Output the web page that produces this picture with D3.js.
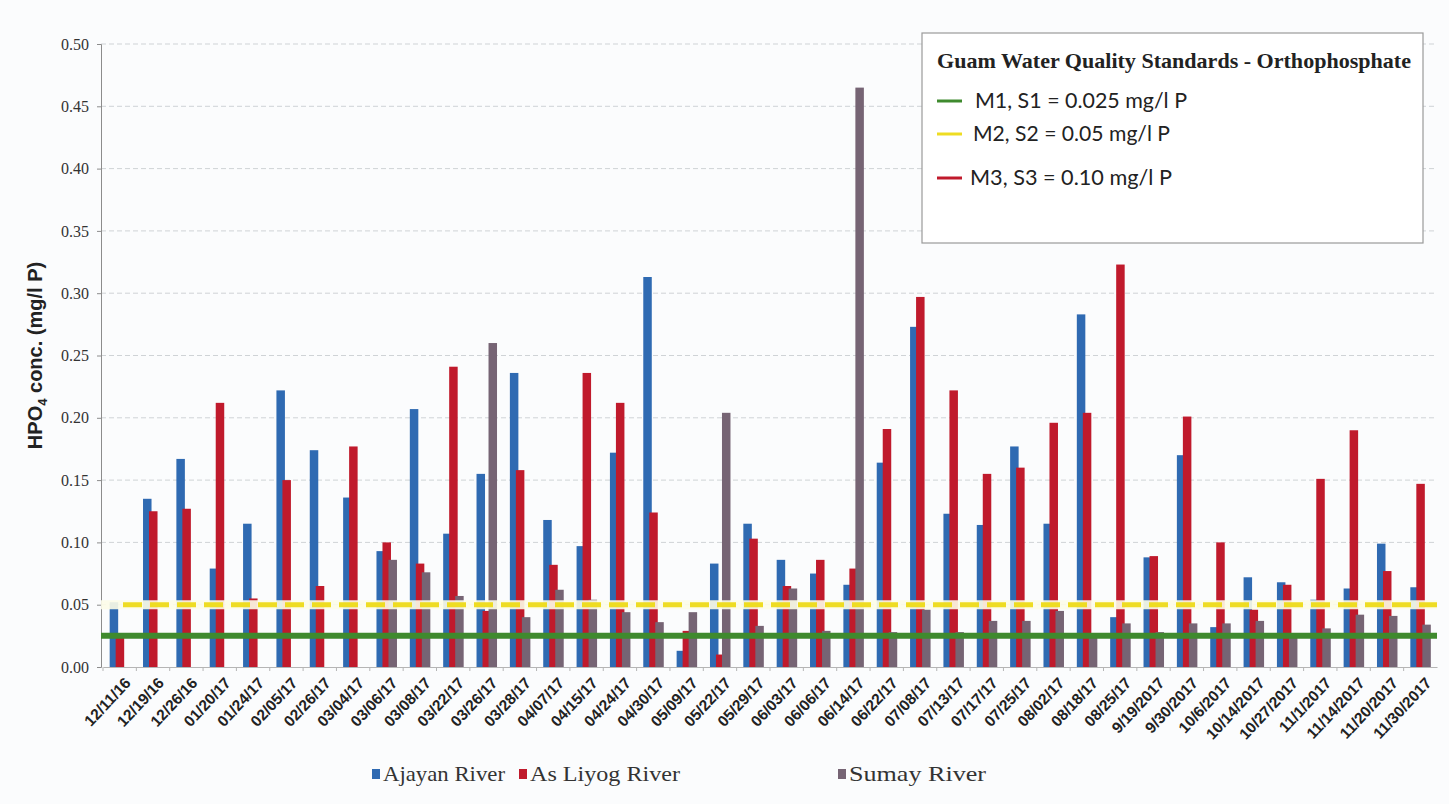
<!DOCTYPE html>
<html><head><meta charset="utf-8">
<script src="https://cdn.jsdelivr.net/npm/d3@7"></script>
<style>
html,body{margin:0;padding:0;background:#fbfcfd;}
svg{display:block;}
</style></head>
<body>
<svg id="chart" width="1449" height="804"></svg>
<script>
// ---------- data ----------
const dates = ["12/11/16","12/19/16","12/26/16","01/20/17","01/24/17","02/05/17","02/26/17","03/04/17","03/06/17","03/08/17",
"03/22/17","03/26/17","03/28/17","04/07/17","04/15/17","04/24/17","04/30/17","05/09/17","05/22/17","05/29/17",
"06/03/17","06/06/17","06/14/17","06/22/17","07/08/17","07/13/17","07/17/17","07/25/17","08/02/17","08/18/17",
"08/25/17","9/19/2017","9/30/2017","10/6/2017","10/14/2017","10/27/2017","11/1/2017","11/14/2017","11/20/2017","11/30/2017"];

const ajayan = [0.052,0.135,0.167,0.079,0.115,0.222,0.174,0.136,0.093,0.207,
0.107,0.155,0.236,0.118,0.097,0.172,0.313,0.013,0.083,0.115,
0.086,0.075,0.066,0.164,0.273,0.123,0.114,0.177,0.115,0.283,
0.040,0.088,0.170,0.032,0.072,0.068,0.054,0.063,0.099,0.064];

const asLiyog = [0.027,0.125,0.127,0.212,0.055,0.150,0.065,0.177,0.100,0.083,
0.241,0.045,0.158,0.082,0.236,0.212,0.124,0.029,0.010,0.103,
0.065,0.086,0.079,0.191,0.297,0.222,0.155,0.160,0.196,0.204,
0.323,0.089,0.201,0.100,0.046,0.066,0.151,0.190,0.077,0.147];

const sumay = [null,null,null,null,null,null,null,null,0.086,0.076,
0.057,0.260,0.040,0.062,0.054,0.044,0.036,0.044,0.204,0.033,
0.063,0.029,0.465,0.028,0.046,0.028,0.037,0.037,0.045,0.027,
0.035,0.028,0.035,0.035,0.037,0.027,0.031,0.042,0.041,0.034];

const seriesNames = ["Ajayan River","As Liyog River","Sumay River"];
const seriesColors = ["#2f6ab2","#c01a2c","#766474"];

const yTicks = [0,0.05,0.10,0.15,0.20,0.25,0.30,0.35,0.40,0.45,0.50];

const stdTitle = "Guam Water Quality Standards - Orthophosphate";
const stdLabels = ["M1, S1 = 0.025 mg/l P","M2, S2 = 0.05 mg/l P","M3, S3 = 0.10 mg/l P"];
const stdValues = [0.025,0.05,0.10];
const stdColors = ["#3f8a2e","#eedc22","#c01a2c"];

// ---------- layout ----------
const svg = d3.select("#chart");
const L = 101, R = 1437, T = 44, B = 667;
const serif = "'Liberation Serif','Times New Roman',Times,serif";

const x = d3.scaleBand().domain(dates).range([L+2, R]).padding(0);
const y = d3.scaleLinear().domain([0,0.5]).range([B,T]);

// gridlines
svg.append("g").selectAll("line").data(yTicks.filter(d=>d>0)).join("line")
  .attr("x1",L).attr("x2",R).attr("y1",d=>y(d)).attr("y2",d=>y(d))
  .attr("stroke","#cfd3d6").attr("stroke-width",1).attr("stroke-dasharray","5,3");

// y axis
const yAxis = svg.append("g").attr("transform",`translate(${L},0)`)
  .call(d3.axisLeft(y).tickValues(yTicks).tickFormat(d3.format(".2f")).tickSize(4).tickPadding(8));
yAxis.select(".domain").attr("stroke","#8c8c8c");
yAxis.selectAll(".tick line").attr("stroke","#8c8c8c");
yAxis.selectAll("text").attr("font-family",serif)
  .attr("font-size",16).attr("fill","#333");

// x axis
const xAxis = svg.append("g").attr("transform",`translate(0,${B})`)
  .call(d3.axisBottom(x).tickSize(0).tickFormat(""));
xAxis.select(".domain").attr("stroke","#b5b5b5");
svg.append("g").selectAll("line").data(dates).join("line")
  .attr("x1",d=>x(d)).attr("x2",d=>x(d)).attr("y1",B).attr("y2",B+4)
  .attr("stroke","#b5b5b5");

svg.append("g").selectAll("text").data(dates).join("text")
  .attr("transform",d=>`translate(${x(d)+x.bandwidth()/2+8},${B+13}) rotate(-47)`)
  .attr("text-anchor","end").attr("dy","0.35em")
  .attr("font-family","'Liberation Sans Narrow','Liberation Sans',Arial,sans-serif")
  .attr("font-weight","bold").attr("font-size",15.5).attr("fill","#222")
  .text(d=>d);

// bars
const offsets = [-10,-4,2];
const barW = 8.5;
const allSeries = [ajayan, asLiyog, sumay];
allSeries.forEach((vals,si)=>{
  svg.append("g").selectAll("rect")
    .data(dates.map((d,i)=>({d, v: vals[i]})).filter(o=>o.v!=null))
    .join("rect")
    .attr("x",o=>x(o.d)+x.bandwidth()/2+offsets[si])
    .attr("width",barW)
    .attr("y",o=>y(o.v))
    .attr("height",o=>B-y(o.v))
    .attr("fill",seriesColors[si]);
});

// standard lines
svg.append("line").attr("x1",L).attr("x2",R).attr("y1",y(stdValues[0])).attr("y2",y(stdValues[0]))
  .attr("stroke",stdColors[0]).attr("stroke-width",6);
svg.append("line").attr("x1",L).attr("x2",R).attr("y1",y(stdValues[1])).attr("y2",y(stdValues[1]))
  .attr("stroke","#fdfde8").attr("stroke-width",9).attr("opacity",0.9);
svg.append("line").attr("x1",L+22).attr("x2",R).attr("y1",y(stdValues[1])).attr("y2",y(stdValues[1]))
  .attr("stroke",stdColors[1]).attr("stroke-width",5).attr("stroke-dasharray","19,8");

// y label
svg.append("text")
  .attr("transform",`translate(42,${(T+B)/2}) rotate(-90)`)
  .attr("text-anchor","middle")
  .attr("font-family","'Liberation Sans',Arial,sans-serif").attr("font-weight","bold")
  .attr("font-size",20).attr("fill","#222")
  .call(t=>{
    t.append("tspan").text("HPO");
    t.append("tspan").attr("font-size",13).attr("dy",5).text("4");
    t.append("tspan").attr("dy",-5).text(" conc.  (mg/l P)");
  });

// standards legend box
const lg = svg.append("g");
lg.append("rect").attr("x",922).attr("y",33).attr("width",501).attr("height",210)
  .attr("fill","#ffffff").attr("stroke","#9a9a9a").attr("stroke-width",1.2);
lg.append("text").attr("x",937).attr("y",68)
  .attr("font-family",serif).attr("font-weight","bold")
  .attr("font-size",21).attr("textLength",474).attr("lengthAdjust","spacingAndGlyphs")
  .attr("fill","#222").text(stdTitle);
const itemY = [101,134,178];
const itemX = [975,973,970];
const itemW = [212,197,202];
stdLabels.forEach((s,i)=>{
  lg.append("line").attr("x1",937).attr("x2",962).attr("y1",itemY[i]).attr("y2",itemY[i])
    .attr("stroke",stdColors[i]).attr("stroke-width",3);
  lg.append("text").attr("x",itemX[i]).attr("y",itemY[i]+7)
    .attr("font-family","Lato,'Open Sans',sans-serif").attr("font-size",21)
    .attr("textLength",itemW[i]).attr("lengthAdjust","spacingAndGlyphs")
    .attr("fill","#222").text(s);
});

// series legend
const legX = [372, 519, 838];
const legW = [122, 150, 137];
seriesNames.forEach((s,i)=>{
  svg.append("rect").attr("x",legX[i]).attr("y",769).attr("width",8).attr("height",10).attr("fill",seriesColors[i]);
  svg.append("text").attr("x",legX[i]+11).attr("y",781)
    .attr("font-family",serif).attr("font-size",22)
    .attr("textLength",legW[i]).attr("lengthAdjust","spacingAndGlyphs")
    .attr("fill","#333").text(s);
});
</script>
</body></html>
